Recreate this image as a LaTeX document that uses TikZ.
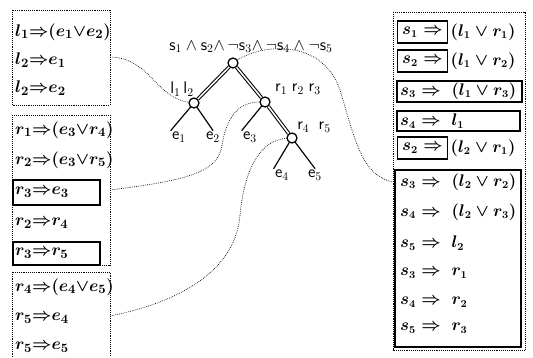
\documentclass[tikz,border=0pt]{standalone}
\usepackage{amsmath,amssymb}
\usetikzlibrary{positioning}

\begin{document}
\begin{tikzpicture}[x=0.03cm,y=-0.03cm]
\tikzset{
  knot/.style={circle,draw=black,line width=1.1pt,fill=white,minimum size=3mm,inner sep=0pt},
  branch/.style={draw=black,double=white,line width=0.9pt,double distance=1.3pt},
  twig/.style={draw=black,line width=1pt,line cap=round},
  treelabel/.style={inner sep=1pt,font=\fontsize{14}{16}\selectfont},
  lrule/.style={anchor=west,inner sep=0pt,font=\fontsize{15}{18}\selectfont\boldmath},
  srule/.style={anchor=west,inner sep=0pt,font=\fontsize{13.5}{16}\selectfont\boldmath},
  sbox/.style={srule,draw=black,line width=0.9pt,minimum width=1.5cm,minimum height=0.66cm,inner xsep=2pt},
  dotbox/.style={draw=black,densely dotted,line width=0.6pt},
  solidbox/.style={draw=black,line width=0.9pt},
  tie/.style={draw=black,densely dotted,line width=0.6pt}
}
\useasboundingbox (0,0) rectangle (533,357);
% tree
\node[knot] (root) at (233,63) {};
\node[knot] (lk) at (194,103) {};
\node[knot] (rk) at (265,102) {};
\node[knot] (rrk) at (292,138) {};
\node[treelabel] (top) at (251,47) {$\mathsf{s}_1\wedge\mathsf{s}_2{\wedge}\,\neg\mathsf{s}_3{\wedge}\,\neg\mathsf{s}_4\wedge\neg\mathsf{s}_5$};
\node[treelabel] (ll) at (182,89) {$\mathsf{l}_1\,\mathsf{l}_2$};
\node[treelabel] (rl) at (298,89) {$\mathsf{r}_1\;\mathsf{r}_2\;\mathsf{r}_3$};
\node[treelabel] (rrl) at (314,127) {$\mathsf{r}_4\;\;\mathsf{r}_5$};
\node[treelabel] (e1) at (179,137) {$\mathsf{e}_1$};
\node[treelabel] (e2) at (213,137) {$\mathsf{e}_2$};
\node[treelabel] (e3) at (250,137) {$\mathsf{e}_3$};
\node[treelabel] (e4) at (282,175) {$\mathsf{e}_4$};
\node[treelabel] (e5) at (315,175) {$\mathsf{e}_5$};
\draw[branch] (root) -- (lk);
\draw[branch] (root) -- (rk);
\draw[branch] (rk) -- (rrk);
\draw[twig] (lk) -- (e1.north west);
\draw[twig] (lk) -- (e2.north);
\draw[twig] (rk) -- (e3.north west);
\draw[twig] (rrk) -- (e4.north west);
\draw[twig] (rrk) -- (e5.north);
% left rules
\draw[dotbox] (12,10) rectangle (110,105);
\node[lrule] (a1) at (15,32) {$l_1{\Rightarrow}(e_1{\vee}e_2)$};
\node[lrule] (a2) at (15,60) {$l_2{\Rightarrow}e_1$};
\node[lrule] (a3) at (15,88) {$l_2{\Rightarrow}e_2$};
\draw[dotbox] (12,115) rectangle (110,265);
\node[lrule] (b1) at (15,130) {$r_1{\Rightarrow}(e_3{\vee}r_4)$};
\node[lrule] (b2) at (15,160) {$r_2{\Rightarrow}(e_3{\vee}r_5)$};
\node[lrule] (b3) at (15,192) {$r_3{\Rightarrow}e_3$};
\node[lrule] (b4) at (15,223) {$r_2{\Rightarrow}r_4$};
\node[lrule] (b5) at (15,253) {$r_3{\Rightarrow}r_5$};
\draw[solidbox] (13,180) rectangle (100,205);
\draw[solidbox] (13,242) rectangle (100,265);
\draw[dotbox] (12,357) -- (12,272) -- (110,272) -- (110,357);
\node[lrule] (c1) at (15,287) {$r_4{\Rightarrow}(e_4{\vee}e_5)$};
\node[lrule] (c2) at (15,318) {$r_5{\Rightarrow}e_4$};
\node[lrule] (c3) at (15,347) {$r_5{\Rightarrow}e_5$};
% right rules
\draw[dotbox] (393,12) rectangle (525,350);
\node[sbox] (s1) at (397,32) {$s_1\Rightarrow$};
\node[srule,right=2pt of s1] {$(l_1\vee r_1)$};
\node[sbox] (s2) at (397,61) {$s_2\Rightarrow$};
\node[srule,right=2pt of s2] {$(l_1\vee r_2)$};
\node[srule] (s3) at (400,91) {$s_3\Rightarrow\;(l_1\vee r_3)$};
\draw[solidbox] (397,81) rectangle (522,102);
\node[srule] (s4) at (400,121) {$s_4\Rightarrow\;l_1$};
\draw[solidbox] (397,111) rectangle (520,131);
\node[sbox] (s5) at (397,148) {$s_2\Rightarrow$};
\node[srule,right=2pt of s5] {$(l_2\vee r_1)$};
\draw[solidbox] (395,170) rectangle (521,347);
\node[srule] (t1) at (400,182) {$s_3\Rightarrow\;(l_2\vee r_2)$};
\node[srule] (t2) at (400,212) {$s_4\Rightarrow\;(l_2\vee r_3)$};
\node[srule] (t3) at (400,243) {$s_5\Rightarrow\;l_2$};
\node[srule] (t4) at (400,273) {$s_3\Rightarrow\;r_1$};
\node[srule] (t5) at (400,302) {$s_4\Rightarrow\;r_2$};
\node[srule] (t6) at (400,328) {$s_5\Rightarrow\;r_3$};
% dotted ties
\coordinate (p1) at (110,57);
\coordinate (p2) at (110,190);
\coordinate (p3) at (110,316);
\coordinate (p4) at (393,182);
\draw[tie] (p1) .. controls (150,58) and (155,97) .. (lk);
\draw[tie] (p2) .. controls (190,180) and (218,172) .. (222,145) .. controls (227,115) and (240,102) .. (rk);
\draw[tie] (p3) .. controls (190,300) and (236,265) .. (240,215) .. controls (245,165) and (262,140) .. (rrk);
\draw[tie] (root) .. controls (262,44) and (322,38) .. (340,90) .. controls (355,140) and (362,176) .. (p4);
\end{tikzpicture}
\end{document}
